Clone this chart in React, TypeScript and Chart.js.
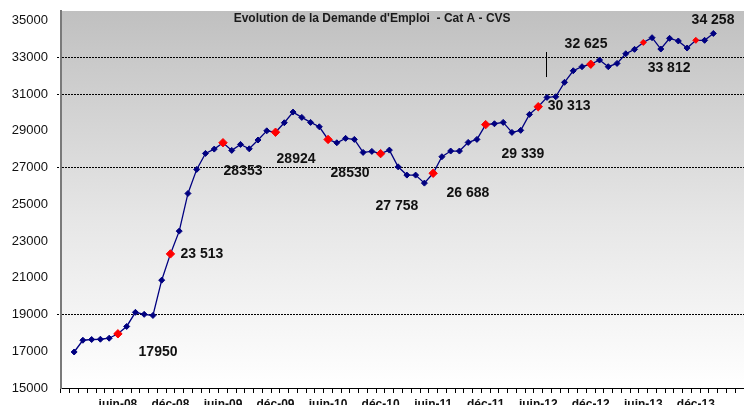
import React, { useEffect, useRef } from "react";
import { Chart, registerables } from "chart.js";

Chart.register(...registerables);

// Monthly categories, déc-07 .. mai-14
const categories: string[] = [
  "déc-07",
  "janv-08", "févr-08", "mars-08", "avr-08", "mai-08", "juin-08", "juil-08", "août-08", "sept-08", "oct-08", "nov-08", "déc-08",
  "janv-09", "févr-09", "mars-09", "avr-09", "mai-09", "juin-09", "juil-09", "août-09", "sept-09", "oct-09", "nov-09", "déc-09",
  "janv-10", "févr-10", "mars-10", "avr-10", "mai-10", "juin-10", "juil-10", "août-10", "sept-10", "oct-10", "nov-10", "déc-10",
  "janv-11", "févr-11", "mars-11", "avr-11", "mai-11", "juin-11", "juil-11", "août-11", "sept-11", "oct-11", "nov-11", "déc-11",
  "janv-12", "févr-12", "mars-12", "avr-12", "mai-12", "juin-12", "juil-12", "août-12", "sept-12", "oct-12", "nov-12", "déc-12",
  "janv-13", "févr-13", "mars-13", "avr-13", "mai-13", "juin-13", "juil-13", "août-13", "sept-13", "oct-13", "nov-13", "déc-13",
  "janv-14", "févr-14", "mars-14", "avr-14", "mai-14",
];

// Demande d'emploi Cat A (CVS), one value per category
const demande: (number | null)[] = [
  null,
  16960, 17600, 17640, 17655, 17710, 17950, 18350, 19120, 19010, 18950, 20870, 22300,
  23540, 25590, 26900, 27770, 28005, 28353, 27935, 28260, 28020, 28500, 29000, 28924,
  29440, 30021, 29732, 29460, 29220, 28530, 28350, 28590, 28533, 27825, 27880, 27758,
  27950, 27040, 26590, 26590, 26153, 26688, 27590, 27900, 27900, 28370, 28533, 29339,
  29385, 29460, 28915, 29025, 29895, 30313, 30820, 30855, 31640, 32270, 32490, 32625,
  32854, 32490, 32670, 33197, 33435, 33812, 34070, 33453, 34035, 33890, 33507, 33927,
  33927, 34300, null, null, null,
];

// Tick labels shown on the x axis
const xTickLabels: string[] = [
  "juin-08", "déc-08", "juin-09", "déc-09", "juin-10", "déc-10",
  "juin-11", "déc-11", "juin-12", "déc-12", "juin-13", "déc-13",
];

// y-axis ticks and highlighted gridlines
const yTicks: number[] = [15000, 17000, 19000, 21000, 23000, 25000, 27000, 29000, 31000, 33000, 35000];
const yGridShown: number[] = [19000, 27000, 31000, 33000];

// Value labels placed in data space (category position, value)
const labelTexts: string[] = ["17950", "23 513", "28353", "28924", "28530", "27 758", "26 688", "29 339", "30 313", "32 625", "33 812", "34 258"];
const labelAt: number[] = [10.58, 15.6, 20.29, 26.34, 32.51, 37.87, 45.98, 52.26, 57.52, 59.46, 68.94, 73.96];
const labelValue: number[] = [16947, 22285, 26807, 27461, 26698, 24900, 25608, 27733, 30348, 33725, 32418, 35033];

// Small vertical marker (category position, value range)
const markerAt = 54.86;
const markerRange: number[] = [31928, 33290];

const TITLE = "Evolution de la Demande d'Emploi  - Cat A - CVS";
const FONT = "'Liberation Sans', Arial, sans-serif";

const isRed = (i: number) => {
  const c = categories[i] || "";
  return c.startsWith("juin") || c.startsWith("déc");
};
const isBigRed = (i: number) => {
  const c = categories[i] || "";
  return isRed(i) && parseInt(c.slice(-2), 10) <= 12;
};

const bgPlugin = {
  id: "bgPlugin",
  beforeDraw(chart: any) {
    const { ctx, chartArea } = chart;
    const g = ctx.createLinearGradient(0, chartArea.top, 0, chartArea.bottom);
    g.addColorStop(0, "#c0c0c0");
    g.addColorStop(0.55, "#e6e6e6");
    g.addColorStop(1, "#ffffff");
    ctx.save();
    ctx.fillStyle = g;
    ctx.fillRect(chartArea.left, chartArea.top, chartArea.right - chartArea.left, chartArea.bottom - chartArea.top);
    ctx.restore();
  },
};

const textPlugin = {
  id: "textPlugin",
  afterDatasetsDraw(chart: any) {
    const { ctx, chartArea } = chart;
    const xs = chart.scales.x;
    const ys = chart.scales.y;
    ctx.save();
    // title
    ctx.fillStyle = "#1a1a1a";
    ctx.font = `bold 12px ${FONT}`;
    ctx.textAlign = "center";
    ctx.textBaseline = "middle";
    ctx.fillText(TITLE, chartArea.left + (chartArea.right - chartArea.left) * 0.4555, chartArea.top + 8);
    // value labels
    ctx.font = `bold 14px ${FONT}`;
    ctx.fillStyle = "#111";
    labelTexts.forEach((t, i) => {
      ctx.fillText(t, xs.getPixelForValue(labelAt[i]), ys.getPixelForValue(labelValue[i]));
    });
    // marker line
    ctx.strokeStyle = "#000";
    ctx.lineWidth = 1;
    const mx = Math.round(xs.getPixelForValue(markerAt)) + 0.5;
    ctx.beginPath();
    ctx.moveTo(mx, ys.getPixelForValue(markerRange[1]));
    ctx.lineTo(mx, ys.getPixelForValue(markerRange[0]));
    ctx.stroke();
    ctx.restore();
  },
};

export default function App() {
  const ref = useRef<HTMLCanvasElement | null>(null);

  useEffect(() => {
    document.body.style.margin = "0";
    const canvas = ref.current;
    if (!canvas) return;
    const chart = new Chart(canvas, {
      type: "line",
      data: {
        labels: categories,
        datasets: [
          {
            data: demande,
            borderColor: "#000080",
            borderWidth: 1.3,
            tension: 0,
            spanGaps: false,
            pointStyle: "rectRot",
            pointRadius: (c: any) => (isBigRed(c.dataIndex) ? 4.2 : 3),
            pointBackgroundColor: (c: any) => (isRed(c.dataIndex) ? "#ff0000" : "#000080"),
            pointBorderColor: (c: any) => (isRed(c.dataIndex) ? "#ff0000" : "#000080"),
            pointBorderWidth: 1,
          },
        ],
      },
      options: {
        animation: false,
        responsive: true,
        maintainAspectRatio: false,
        layout: { padding: { top: 11, left: 0, right: 0, bottom: 0 }, autoPadding: false },
        plugins: {
          legend: { display: false },
          title: { display: false },
          tooltip: { enabled: false },
        },
        scales: {
          x: {
            type: "category",
            offset: true,
            afterFit(scale: any) {
              scale.height = 17;
              scale.paddingLeft = 0;
              scale.paddingRight = 0;
            },
            grid: {
              offset: true,
              drawOnChartArea: false,
              drawTicks: true,
              tickLength: 5,
              tickColor: "#000",
            },
            border: { color: "#000", width: 1 },
            ticks: {
              autoSkip: false,
              maxRotation: 0,
              minRotation: 0,
              padding: 4,
              color: "#111",
              font: { family: FONT, size: 12, weight: "bold" },
              callback: function (this: any, val: any) {
                const lab = categories[val as number];
                return xTickLabels.includes(lab) ? lab : "";
              },
            },
          },
          y: {
            min: 15000,
            max: 35523,
            afterFit(scale: any) {
              scale.width = 61;
              scale.paddingTop = 0;
              scale.paddingBottom = 0;
            },
            afterBuildTicks(scale: any) {
              scale.ticks = yTicks.map((v) => ({ value: v }));
            },
            grid: {
              color: (c: any) => (c.tick && yGridShown.includes(c.tick.value) ? "#000" : "rgba(0,0,0,0)"),
              tickColor: (c: any) => (c.tick && yGridShown.includes(c.tick.value) ? "#000" : "rgba(0,0,0,0)"),
              lineWidth: 1,
              tickLength: 4,
              tickBorderDash: [2, 1],
            } as any,
            border: { color: "#7a7a7a", width: 2, dash: [2, 1] } as any,
            ticks: {
              padding: 9,
              color: "#111",
              font: { family: FONT, size: 13 },
              callback: (v: any) => String(v),
            },
          },
        },
      } as any,
      plugins: [bgPlugin, textPlugin],
    });
    return () => chart.destroy();
  }, []);

  return (
    <div style={{ width: 744, height: 405, position: "relative" }}>
      <canvas ref={ref} />
    </div>
  );
}
